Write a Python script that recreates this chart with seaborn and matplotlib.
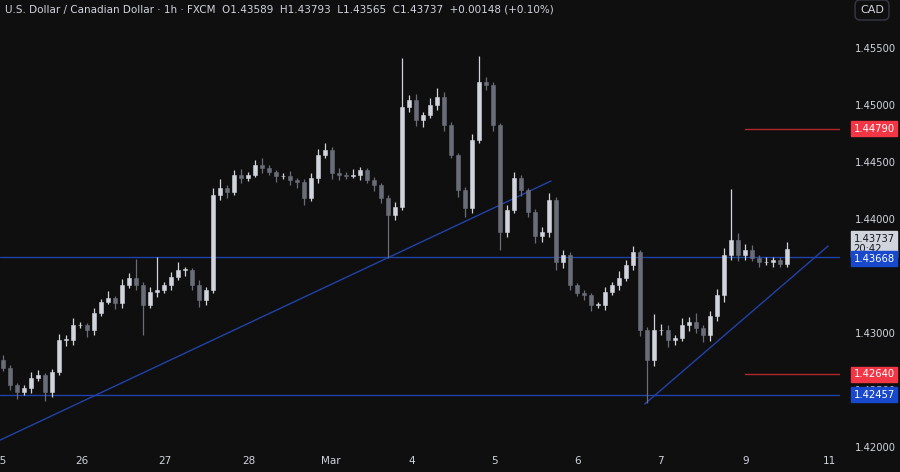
import matplotlib
matplotlib.use("Agg")
import matplotlib.pyplot as plt
import numpy as np
import seaborn as sns

# 2-hour candles, USD/CAD
closes = [
    1.42693, 1.42544, 1.42482, 1.42517, 1.42605, 1.42631, 1.42482, 1.42658, 1.42939, 1.42939,
    1.43070, 1.43070, 1.43026, 1.43175, 1.43272, 1.43307, 1.43263, 1.43421, 1.43482, 1.43421,
    1.43246, 1.43360, 1.43377, 1.43421, 1.43491, 1.43553, 1.43553, 1.43421, 1.43289, 1.43377,
    1.44210, 1.44272, 1.44237, 1.44386, 1.44360, 1.44386, 1.44474, 1.44447, 1.44412, 1.44377,
    1.44377, 1.44342, 1.44324, 1.44184, 1.44360, 1.44561, 1.44605, 1.44403, 1.44386, 1.44377,
    1.44386, 1.44430, 1.44342, 1.44298, 1.44184, 1.44035, 1.44105, 1.44982, 1.45044, 1.44868,
    1.44912, 1.45000, 1.45070, 1.44824, 1.44561, 1.44254, 1.44096, 1.44693, 1.45202, 1.45175,
    1.44824, 1.43886, 1.44079, 1.44360, 1.44254, 1.44061, 1.43851, 1.43886, 1.44167, 1.43623,
    1.43684, 1.43421, 1.43351, 1.43333, 1.43246, 1.43246, 1.43360, 1.43421, 1.43482, 1.43596,
    1.43710, 1.43026, 1.42763, 1.43026, 1.43026, 1.42939, 1.42956, 1.43070, 1.43096, 1.43044,
    1.42982, 1.43149, 1.43333, 1.43684, 1.43816, 1.43684, 1.43728, 1.43658, 1.43623, 1.43623,
    1.43640, 1.43605, 1.43737,
]
first_open = 1.42763
# wick lengths in pips above / below the body
wick_up = [
    4, 3, 2, 3, 5, 4, 2, 3, 5, 4, 6, 3, 2, 4, 3, 6, 2, 5, 4, 17,
    3, 4, 29, 3, 4, 7, 3, 2, 4, 3, 6, 8, 3, 4, 5, 3, 4, 6, 3, 2,
    3, 4, 2, 3, 4, 5, 6, 3, 4, 3, 5, 3, 2, 3, 2, 3, 4, 43, 4, 5,
    3, 6, 8, 4, 3, 2, 3, 5, 23, 4, 3, 2, 4, 5, 3, 2, 3, 4, 6, 3,
    4, 3, 2, 3, 2, 3, 4, 3, 6, 4, 5, 2, 3, 14, 5, 4, 3, 6, 4, 8,
    3, 4, 5, 6, 45, 6, 5, 4, 3, 4, 3, 3, 6,
]
wick_down = [
    3, 4, 6, 3, 4, 3, 8, 4, 3, 5, 4, 3, 6, 4, 3, 2, 5, 4, 3, 4,
    26, 3, 4, 3, 4, 3, 5, 4, 6, 4, 3, 4, 5, 3, 4, 3, 2, 4, 3, 5,
    3, 4, 5, 6, 3, 4, 3, 5, 4, 3, 2, 4, 3, 5, 4, 38, 4, 3, 4, 5,
    6, 3, 4, 5, 3, 6, 8, 4, 3, 4, 5, 16, 4, 3, 5, 4, 6, 5, 4, 7,
    5, 4, 3, 4, 5, 3, 4, 3, 4, 3, 4, 5, 38, 5, 4, 6, 4, 3, 5, 4,
    6, 5, 4, 6, 4, 5, 4, 3, 4, 3, 4, 3, 3,
]

day_ticks = [-0.4, 11.3, 23.1, 35.1, 46.9, 58.4, 70.3, 82.1, 94.0, 106.1, 118.1]
day_labels = ["25", "26", "27", "28", "Mar", "4", "5", "6", "7", "9", "11"]
price_ticks = [1.420, 1.425, 1.430, 1.440, 1.445, 1.450, 1.455]

support_lines = [1.43668, 1.42457]
target_lines = [1.44790, 1.42640]
trend1 = ([-0.4, 78.3], [1.42061, 1.44333])
trend2 = ([91.7, 117.9], [1.42377, 1.43763])

BG = "#0f0f0f"
TXT = "#d1d4dc"
UP = "#d1d4dc"
DOWN = "#6a6d78"
BLUE = "#2142a8"
RED = "#b2272f"

sns.set_theme(style="dark", rc={"axes.facecolor": BG, "figure.facecolor": BG})
plt.rcParams["font.family"] = ["DejaVu Sans"]

fig = plt.figure(figsize=(9, 4.72), dpi=100)
ax = fig.add_axes([0, 20 / 472, 840 / 900, 452 / 472])
ax.set_facecolor(BG)

closes = np.array(closes)
opens = np.concatenate([[first_open], closes[:-1]])
x = np.arange(len(closes))
tops = np.maximum(opens, closes)
bots = np.minimum(opens, closes)
highs = tops + np.array(wick_up) * 1e-4
lows = bots - np.array(wick_down) * 1e-4
colors = [UP if c >= o else DOWN for o, c in zip(opens, closes)]

ax.vlines(x, lows, highs, colors=colors, linewidth=0.9, zorder=3)
ax.bar(x, np.maximum(tops - bots, 0.00004), bottom=bots, width=0.5,
       color=colors, edgecolor=colors, linewidth=0.4, zorder=4)

for lvl in support_lines:
    ax.axhline(lvl, color=BLUE, linewidth=1.0, zorder=2)
for lvl in target_lines:
    ax.plot([106, 121], [lvl, lvl], color=RED, linewidth=1.0, zorder=2)
sns.lineplot(x=trend1[0], y=trend1[1], ax=ax, color=BLUE, linewidth=1.0)
sns.lineplot(x=trend2[0], y=trend2[1], ax=ax, color=BLUE, linewidth=1.0)

ax.set_xlim(-0.43, 119.6)
ax.set_ylim(1.41956, 1.45921)
ax.set_xticks(day_ticks)
ax.set_xticklabels(day_labels)
ax.tick_params(axis="x", colors=TXT, labelsize=7.5, length=0, pad=3)
ax.yaxis.tick_right()
ax.set_yticks(price_ticks)
ax.set_yticklabels([f"{p:.5f}" for p in price_ticks])
ax.tick_params(axis="y", colors=TXT, labelsize=7.2, length=0, pad=11)
ax.grid(False)
for s in ax.spines.values():
    s.set_visible(False)

ytr = ax.get_yaxis_transform()
def price_box(y, text, bg, fg="white"):
    ax.text(1.016, y, text, transform=ytr, ha="left", va="center", fontsize=7.2,
            color=fg, zorder=10, clip_on=False, linespacing=1.1,
            bbox=dict(boxstyle="square,pad=0.25", fc=bg, ec=bg))

price_box(1.44790, "1.44790", "#f23645")
price_box(1.42640, "1.42640", "#f23645")
price_box(1.42457, "1.42457", "#1848cc")
price_box(1.43780, "1.43737\n20:42", "#d1d4dc", fg="#131722")
price_box(1.43650, "1.43668", "#1848cc")

fig.text(5 / 900, 1 - 10 / 472,
         "U.S. Dollar / Canadian Dollar · 1h · FXCM  O1.43589  H1.43793  L1.43565  C1.43737  +0.00148 (+0.10%)",
         color=TXT, fontsize=7.5, va="center", ha="left")
fig.text(872 / 900, 1 - 10 / 472, "CAD", color=TXT, fontsize=8, ha="center", va="center",
         bbox=dict(boxstyle="round,pad=0.45", fc=BG, ec="#363a45"))

fig.savefig("out.png", dpi=100, facecolor=BG)
